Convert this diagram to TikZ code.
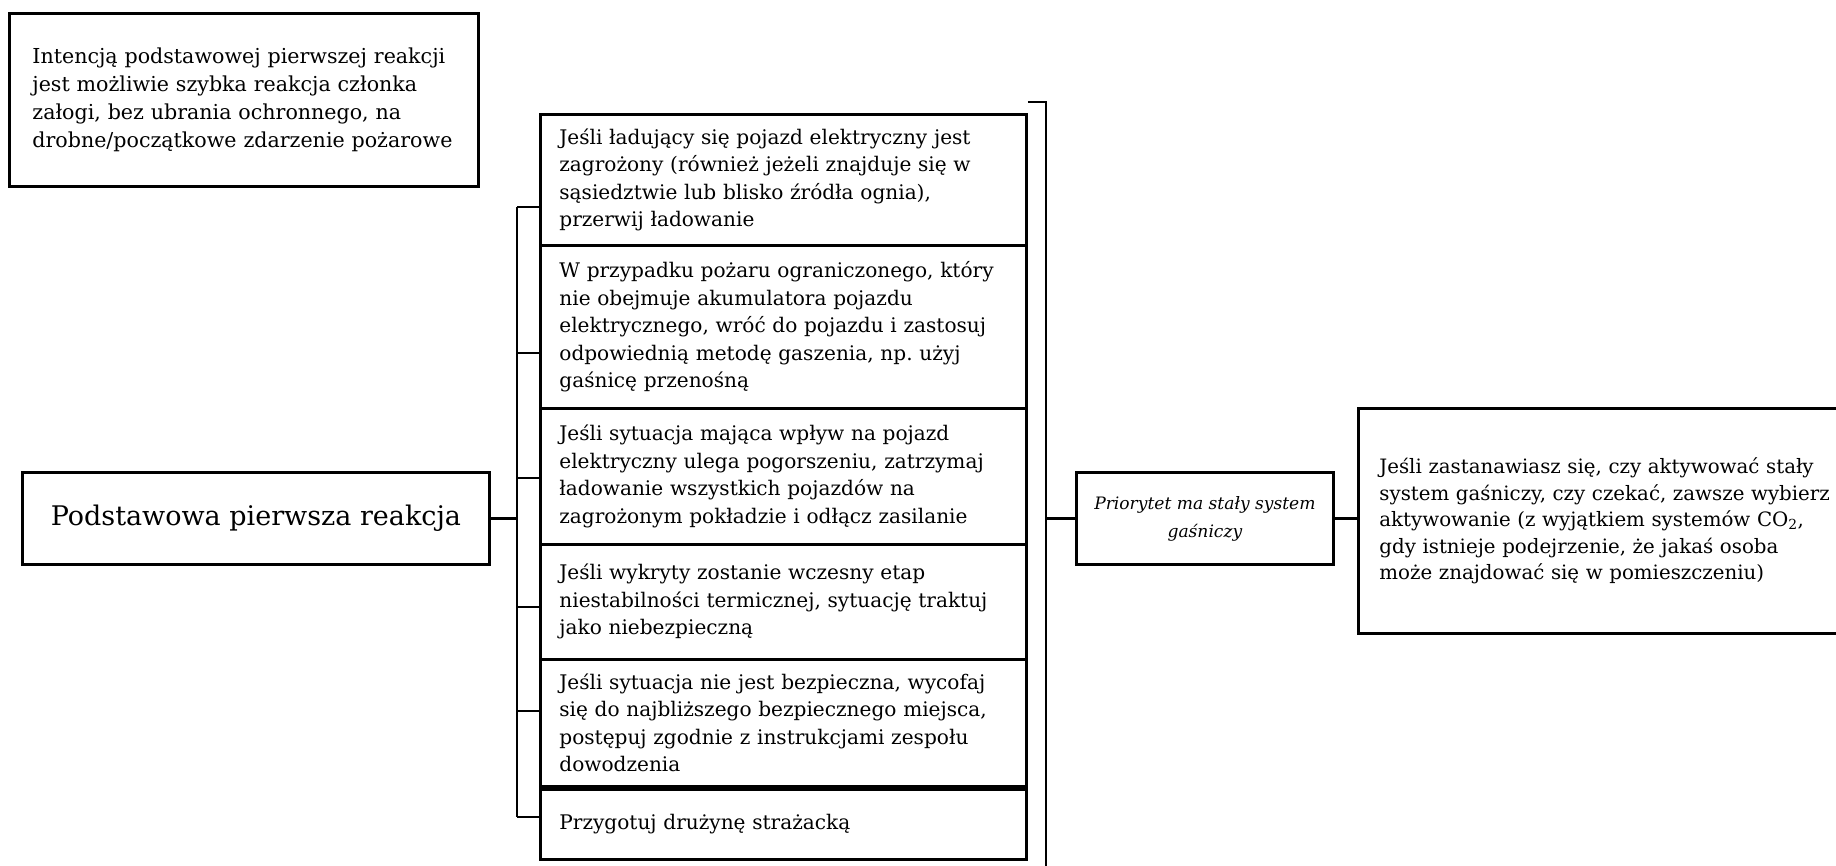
\documentclass[tikz,border=0pt]{standalone}
\usepackage{fontspec}
\setmainfont{DejaVu Serif}
\frenchspacing
\tikzset{
  frame/.style={draw, line width=2.8pt, inner ysep=0pt, anchor=north west},
  textbox/.style={frame, align=left},
  stackbox/.style={textbox, font=\fontsize{20.1}{27.5}\selectfont, inner xsep=19pt, text width=448pt, minimum width=486pt},
  link/.style={line width=2.8pt},
}
\begin{document}
\begin{tikzpicture}[x=1pt,y=-1pt]
\useasboundingbox (0,0) rectangle (1836,865);
\clip (0,0) rectangle (1836,865);

\node[textbox, font=\fontsize{20.6}{28}\selectfont, inner xsep=23pt, text width=423pt, minimum width=469pt, minimum height=173pt] (intent) at (8,12)
 {Intencją podstawowej pierwszej reakcji\\ jest możliwie szybka reakcja członka\\ załogi, bez ubrania ochronnego, na\\ drobne/początkowe zdarzenie pożarowe};

\node[frame, align=center, font=\fontsize{27}{32}\selectfont, minimum width=467pt, minimum height=92pt] (main) at (21,471)
 {Podstawowa pierwsza reakcja};

\node[stackbox, minimum height=131pt] (s1) at (539,113)
 {Jeśli ładujący się pojazd elektryczny jest\\ zagrożony (również jeżeli znajduje się w\\ sąsiedztwie lub blisko źródła ognia),\\ przerwij ładowanie};
\node[stackbox, minimum height=163pt] (s2) at (539,244)
 {W przypadku pożaru ograniczonego, który\\ nie obejmuje akumulatora pojazdu\\ elektrycznego, wróć do pojazdu i zastosuj\\ odpowiednią metodę gaszenia, np. użyj\\ gaśnicę przenośną};
\node[stackbox, minimum height=136pt] (s3) at (539,407)
 {Jeśli sytuacja mająca wpływ na pojazd\\ elektryczny ulega pogorszeniu, zatrzymaj\\ ładowanie wszystkich pojazdów na\\ zagrożonym pokładzie i odłącz zasilanie};
\node[stackbox, minimum height=115pt] (s4) at (539,543)
 {Jeśli wykryty zostanie wczesny etap\\ niestabilności termicznej, sytuację traktuj\\ jako niebezpieczną};
\node[stackbox, minimum height=127pt] (s5) at (539,658)
 {Jeśli sytuacja nie jest bezpieczna, wycofaj\\ się do najbliższego bezpiecznego miejsca,\\ postępuj zgodnie z instrukcjami zespołu\\ dowodzenia};
\node[stackbox, minimum height=70pt] (s6) at (539,788)
 {Przygotuj drużynę strażacką};

\node[frame, align=center, font=\itshape\fontsize{17.1}{28}\selectfont, minimum width=257pt, minimum height=92pt] (prio) at (1075,471)
 {Priorytet ma stały system\\ gaśniczy};

\node[textbox, font=\fontsize{19.8}{26.5}\selectfont, inner xsep=21pt, text width=458pt, minimum width=500pt, minimum height=225pt] (right) at (1357,407)
 {Jeśli zastanawiasz się, czy aktywować stały\\ system gaśniczy, czy czekać, zawsze wybierz\\ aktywowanie (z wyjątkiem systemów CO\textsubscript{2},\\ gdy istnieje podejrzenie, że jakaś osoba\\ może znajdować się w pomieszczeniu)};

% left bracket
\coordinate (lb0) at (517,207);
\coordinate (lb1) at (517,353);
\coordinate (lb2) at (517,478);
\coordinate (lb3) at (517,607);
\coordinate (lb4) at (517,711);
\coordinate (lb5) at (517,817);
\draw[link] (lb0) -- (lb5);
\foreach \i in {0,...,5} { \draw[link] (lb\i) -- (lb\i -| s1.west); }
\draw[link] (main.east) -- (main.east -| lb0);

% right bracket
\coordinate (rbt) at (1046,102);
\coordinate (rbb) at (1046,870);
\draw[link] (rbt -| s1.east) -- (rbt) -- (rbb);
\draw[link] (prio.west -| rbt) -- (prio.west);
\draw[link] (prio.east) -- (prio.east -| right.west);
\end{tikzpicture}
\end{document}
